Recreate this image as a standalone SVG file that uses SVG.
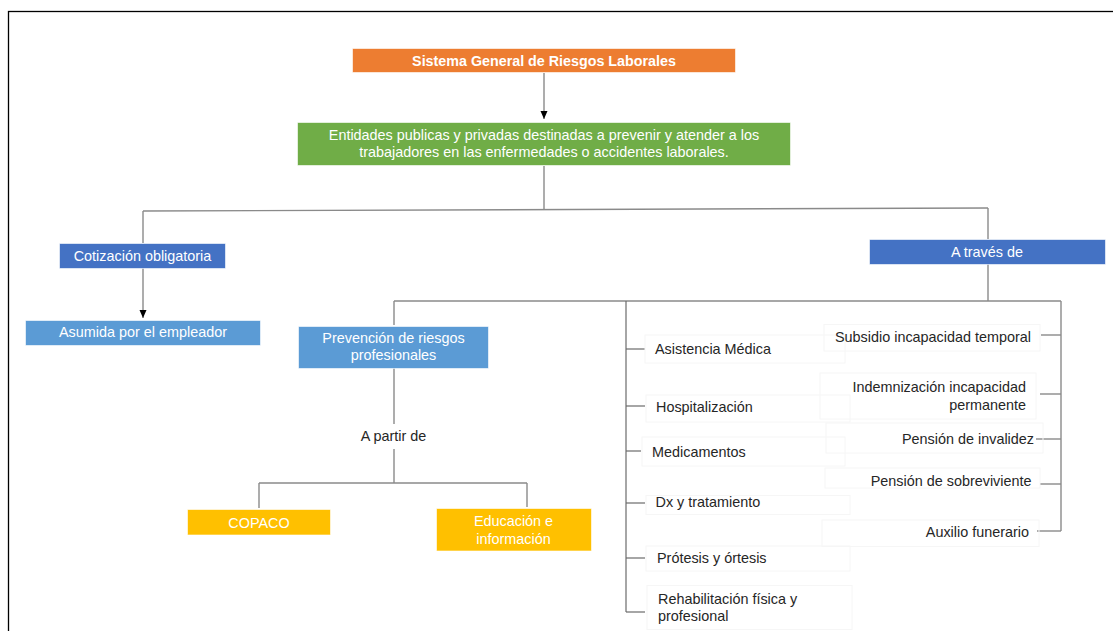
<svg xmlns="http://www.w3.org/2000/svg" width="1113" height="631" viewBox="0 0 1113 631">
<defs>
<style>
.bx{stroke:#ffffff;stroke-opacity:0.6;stroke-width:1}
.wt{fill:#ffffff;font-family:"Liberation Sans",Arial,sans-serif;font-size:14.4px;text-anchor:middle}
.bt{fill:#ffffff;font-family:"Liberation Sans",Arial,sans-serif;font-size:14.3px;font-weight:bold;text-anchor:middle}
.dt{fill:#262626;font-family:"Liberation Sans",Arial,sans-serif;font-size:14.4px}
.rt{fill:#262626;font-family:"Liberation Sans",Arial,sans-serif;font-size:14.4px;text-anchor:end}
.fb{fill:none;stroke:#f6f6f6;stroke-width:1}
.ln{fill:none;stroke:#8a8a8a;stroke-width:1.4}
.lk{fill:none;stroke:#6b6b6b;stroke-width:1.2}
</style>
<marker id="ah" markerWidth="8" markerHeight="8" refX="8" refY="4" orient="auto" markerUnits="userSpaceOnUse" viewBox="0 0 8 8">
<path d="M0,0.5 L8,4 L0,7.5 Z" fill="#000000"/>
</marker>
</defs>
<rect x="0" y="0" width="1113" height="631" fill="#ffffff"/>
<rect x="8.5" y="11.5" width="1120" height="640" fill="none" stroke="#000000" stroke-width="1.3"/>

<g id="connectors">
<line class="ln" x1="544" y1="73" x2="544" y2="119" marker-end="url(#ah)"/>
<line class="ln" x1="544" y1="166" x2="544" y2="209.5"/>
<line class="ln" x1="143" y1="211" x2="988" y2="208"/>
<line class="ln" x1="143" y1="211" x2="143" y2="243"/>
<line class="ln" x1="988" y1="208" x2="988" y2="239"/>
<line class="ln" x1="143" y1="268" x2="143" y2="318" marker-end="url(#ah)"/>
<line class="ln" x1="988" y1="264" x2="988" y2="301"/>
<line class="ln" x1="394" y1="301" x2="1061" y2="301"/>
<line class="ln" x1="394" y1="301" x2="394" y2="325"/>
<line class="ln" x1="394" y1="368" x2="394" y2="424"/>
<line class="ln" x1="394" y1="449" x2="394" y2="483"/>
<line class="ln" x1="259" y1="483" x2="527" y2="483"/>
<line class="ln" x1="259" y1="483" x2="259" y2="508"/>
<line class="ln" x1="527" y1="483" x2="527" y2="507"/>
<line class="lk" x1="626" y1="301" x2="626" y2="612"/>
<line class="lk" x1="626" y1="349" x2="645" y2="349"/>
<line class="lk" x1="626" y1="406" x2="645" y2="406"/>
<line class="lk" x1="626" y1="451" x2="641" y2="451"/>
<line class="lk" x1="626" y1="503" x2="645" y2="503"/>
<line class="lk" x1="626" y1="558" x2="645" y2="558"/>
<line class="lk" x1="626" y1="612" x2="645" y2="612"/>
<line class="ln" x1="1061" y1="301" x2="1061" y2="531"/>
<line class="ln" x1="1041" y1="335" x2="1061" y2="335"/>
<line class="ln" x1="1040" y1="394" x2="1061" y2="394"/>
<line class="ln" x1="1036" y1="439" x2="1061" y2="439"/>
<line class="ln" x1="1040" y1="484" x2="1061" y2="484"/>
<line class="ln" x1="1037" y1="531" x2="1061" y2="531"/>
</g>

<g id="n-sistema">
<rect class="bx" x="352.5" y="48.5" width="383" height="24" fill="#ED7D31"/>
<text class="bt" x="544" y="65.5">Sistema General de Riesgos Laborales</text>
</g>
<g id="n-entidades">
<rect class="bx" x="297.5" y="122.5" width="493" height="43" fill="#70AD47"/>
<text class="wt" x="544" y="140">Entidades publicas y privadas destinadas a prevenir y atender a los</text>
<text class="wt" x="544" y="157">trabajadores en las enfermedades o accidentes laborales.</text>
</g>
<g id="n-cotizacion">
<rect class="bx" x="59.5" y="243.5" width="166" height="25" fill="#4472C4"/>
<text class="wt" x="142.5" y="261">Cotización obligatoria</text>
</g>
<g id="n-asumida">
<rect class="bx" x="25.5" y="320.5" width="235" height="25" fill="#5B9BD5"/>
<text class="wt" x="143" y="337">Asumida por el empleador</text>
</g>
<g id="n-atraves">
<rect class="bx" x="869.5" y="239.5" width="236" height="25" fill="#4472C4"/>
<text class="wt" x="987" y="256.5">A través de</text>
</g>
<g id="n-prevencion">
<rect class="bx" x="298.5" y="326.5" width="190" height="42" fill="#5B9BD5"/>
<text class="wt" x="393.5" y="342.5">Prevención de riesgos</text>
<text class="wt" x="393.5" y="360">profesionales</text>
</g>
<g id="n-apartir">
<text class="dt" x="393.5" y="440.5" text-anchor="middle">A partir de</text>
</g>
<g id="n-copaco">
<rect class="bx" x="187.5" y="509.5" width="143" height="25.5" fill="#FFC000"/>
<text class="wt" x="259" y="527.5">COPACO</text>
</g>
<g id="n-educacion">
<rect class="bx" x="436.5" y="508.5" width="155" height="42.5" fill="#FFC000"/>
<text class="wt" x="513.5" y="526">Educación e</text>
<text class="wt" x="513.5" y="543.5">información</text>
</g>

<g id="n-asistencia">
<rect class="fb" x="645" y="335" width="200" height="28"/>
<text class="dt" x="655" y="354">Asistencia Médica</text>
</g>
<g id="n-hospitalizacion">
<rect class="fb" x="646" y="395" width="204" height="27"/>
<text class="dt" x="656" y="411.5">Hospitalización</text>
</g>
<g id="n-medicamentos">
<rect class="fb" x="642" y="437" width="203" height="29"/>
<text class="dt" x="652" y="456.5">Medicamentos</text>
</g>
<g id="n-dx">
<rect class="fb" x="646" y="495.5" width="204" height="19"/>
<text class="dt" x="655.5" y="506.5">Dx y tratamiento</text>
</g>
<g id="n-protesis">
<rect class="fb" x="646" y="546" width="204" height="25"/>
<text class="dt" x="657" y="562.5">Prótesis y órtesis</text>
</g>
<g id="n-rehabilitacion">
<rect class="fb" x="647" y="585.5" width="205" height="44"/>
<text class="dt" x="658" y="603.5">Rehabilitación física y</text>
<text class="dt" x="658" y="620.5">profesional</text>
</g>

<g id="n-subsidio">
<rect class="fb" x="824" y="324.5" width="216" height="26.5"/>
<text class="rt" x="1031" y="341.5">Subsidio incapacidad temporal</text>
</g>
<g id="n-indemnizacion">
<rect class="fb" x="820" y="373" width="216" height="46"/>
<text class="rt" x="1026" y="391.5">Indemnización incapacidad</text>
<text class="rt" x="1026" y="409.5">permanente</text>
</g>
<g id="n-invalidez">
<rect class="fb" x="826" y="423" width="217" height="30"/>
<text class="rt" x="1034" y="444">Pensión de invalidez</text>
</g>
<g id="n-sobreviviente">
<rect class="fb" x="825" y="468" width="215" height="20"/>
<text class="rt" x="1031.5" y="486">Pensión de sobreviviente</text>
</g>
<g id="n-auxilio">
<rect class="fb" x="822" y="520" width="217" height="26.5"/>
<text class="rt" x="1029" y="537">Auxilio funerario</text>
</g>
</svg>
